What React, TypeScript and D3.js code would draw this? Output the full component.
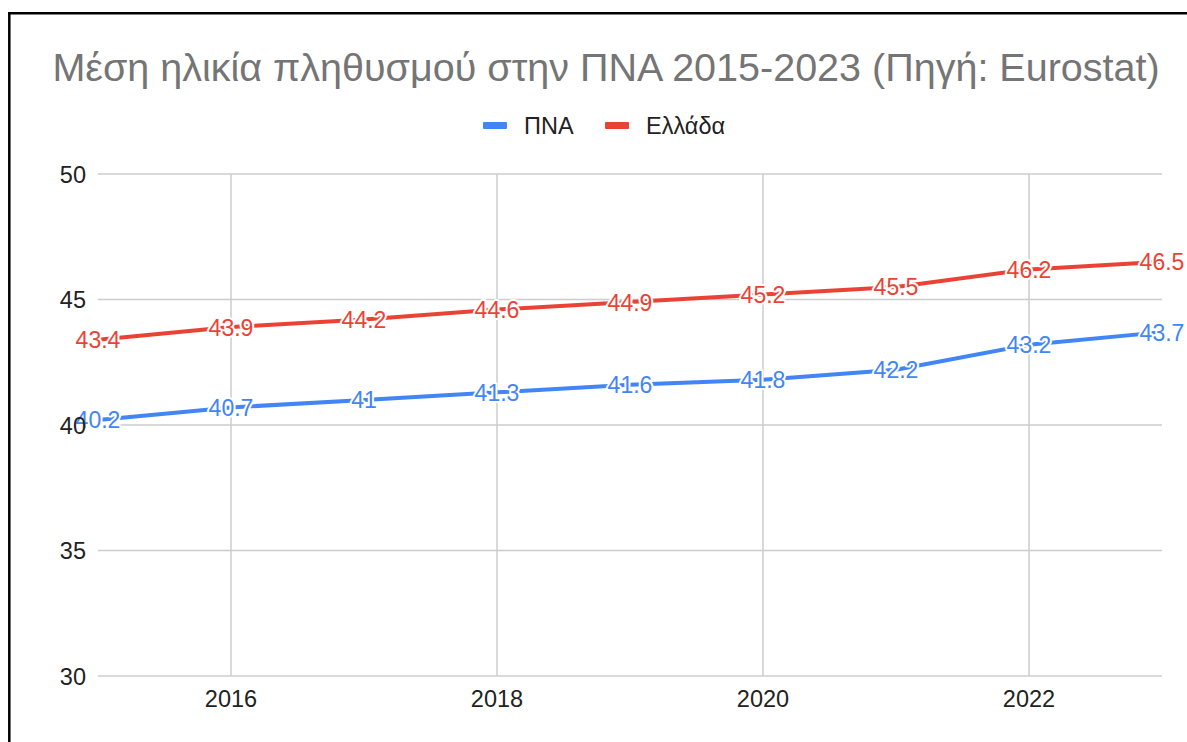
import { useRef, useEffect } from 'react';
import * as d3 from 'd3';

const YEARS = [2015, 2016, 2017, 2018, 2019, 2020, 2021, 2022, 2023];
const PNA = [40.2, 40.7, 41, 41.3, 41.6, 41.8, 42.2, 43.2, 43.7];
const GREECE = [43.4, 43.9, 44.2, 44.6, 44.9, 45.2, 45.5, 46.2, 46.5];
const Y_TICKS = [30, 35, 40, 45, 50];
const X_TICKS = [2016, 2018, 2020, 2022];

const SERIES = [
  { name: 'ΠΝΑ', values: PNA, color: '#4285F4' },
  { name: 'Ελλάδα', values: GREECE, color: '#EA4335' },
];

const FONT = '"Liberation Sans", Arial, sans-serif';

export default function App() {
  const svgRef = useRef<SVGSVGElement>(null);

  useEffect(() => {
    if (!svgRef.current) return;
    const width = 1187;
    const height = 742;
    const margin = { top: 174, right: 25, bottom: 66, left: 98 };

    d3.select(svgRef.current).selectAll('*').remove();
    const svg = d3.select(svgRef.current).attr('width', width).attr('height', height);

    // frame
    svg.append('rect').attr('width', width).attr('height', height).attr('fill', '#fff');
    svg.append('line').attr('x1', 9.3).attr('x2', 9.3).attr('y1', 12).attr('y2', height)
      .attr('stroke', '#000').attr('stroke-width', 2.5);
    svg.append('line').attr('x1', 8).attr('x2', width).attr('y1', 13.2).attr('y2', 13.2)
      .attr('stroke', '#000').attr('stroke-width', 2.5);

    const x = d3.scaleLinear().domain([2015, 2023]).range([margin.left, width - margin.right]);
    const y = d3.scaleLinear().domain([30, 50]).range([height - margin.bottom, margin.top]);

    // Title
    svg.append('text')
      .attr('x', 606).attr('y', 81)
      .attr('text-anchor', 'middle').attr('fill', '#757575')
      .attr('font-family', FONT).attr('font-size', 39.5)
      .text('Μέση ηλικία πληθυσμού στην ΠΝΑ 2015-2023 (Πηγή: Eurostat)');

    // Legend
    const legend = [
      { ...SERIES[0], rx: 483, tx: 524 },
      { ...SERIES[1], rx: 605, tx: 646 },
    ];
    legend.forEach(l => {
      svg.append('rect').attr('x', l.rx).attr('y', 122).attr('width', 24).attr('height', 7)
        .attr('rx', 1).attr('fill', l.color);
      svg.append('text').attr('x', l.tx).attr('y', 134)
        .attr('fill', '#222').attr('font-family', FONT).attr('font-size', 23.5)
        .text(l.name);
    });

    // Grid
    const g = svg.append('g');
    g.selectAll('.hgrid').data(Y_TICKS).enter().append('line')
      .attr('x1', margin.left).attr('x2', width - margin.right)
      .attr('y1', d => y(d)).attr('y2', d => y(d))
      .attr('stroke', '#cccccc').attr('stroke-width', 1.5);
    g.selectAll('.vgrid').data(X_TICKS).enter().append('line')
      .attr('x1', d => x(d)).attr('x2', d => x(d))
      .attr('y1', margin.top).attr('y2', height - margin.bottom)
      .attr('stroke', '#cccccc').attr('stroke-width', 1.5);

    g.selectAll('.xlab').data(X_TICKS).enter().append('text')
      .attr('x', d => x(d)).attr('y', height - margin.bottom + 31)
      .attr('text-anchor', 'middle').attr('fill', '#222')
      .attr('font-family', FONT).attr('font-size', 23.5)
      .text(d => d);

    // Lines
    const line = d3.line<number>().x((_, i) => x(YEARS[i])).y(d => y(d));
    SERIES.forEach(s => {
      svg.append('path').datum(s.values)
        .attr('d', line)
        .attr('fill', 'none').attr('stroke', s.color).attr('stroke-width', 4)
        .attr('stroke-linejoin', 'round');
    });

    // Data labels
    SERIES.forEach(s => {
      svg.append('g').selectAll('text').data(s.values).enter().append('text')
        .attr('x', (_, i) => x(YEARS[i])).attr('y', d => y(d) + 8.5)
        .attr('text-anchor', 'middle').attr('fill', s.color)
        .attr('stroke', '#fff').attr('stroke-width', 4).attr('paint-order', 'stroke')
        .attr('stroke-linejoin', 'round')
        .attr('font-family', FONT).attr('font-size', 23)
        .text(d => d);
    });

    // y labels on top (the 40 sits under the first label)
    svg.append('g').selectAll('text').data(Y_TICKS).enter().append('text')
      .attr('x', 86).attr('y', d => y(d) + 8.5)
      .attr('text-anchor', 'end').attr('fill', '#222')
      .attr('font-family', FONT).attr('font-size', 23.5)
      .text(d => d);
  }, []);

  return (
    <svg ref={svgRef} style={{ position: 'absolute', left: 0, top: 0 }} />
  );
}
